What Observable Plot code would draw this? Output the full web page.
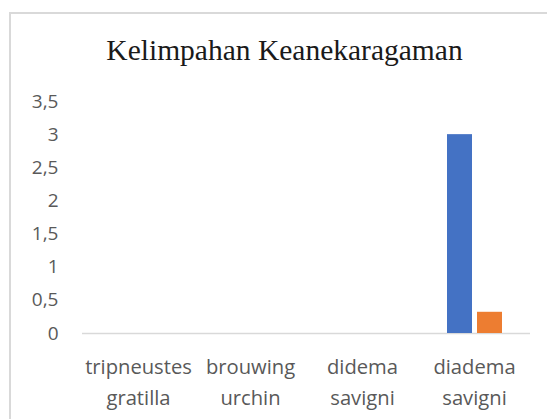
<!DOCTYPE html>
<html>
<head>
<meta charset="utf-8">
<script src="https://cdn.jsdelivr.net/npm/d3@7"></script>
<script src="https://cdn.jsdelivr.net/npm/@observablehq/plot@0.6"></script>
<style>
  body { margin: 0; background: #fff; }
  #wrap { position: relative; width: 547px; height: 419px; overflow: hidden; background: #fff; }
  #border { position: absolute; left: 9px; top: 12px; width: 620px; height: 520px; border: 2px solid #d9d9d9; box-sizing: border-box; }
  #title { position: absolute; left: 0; top: 35px; width: 569px; text-align: center; font-family: "Liberation Serif", "Times New Roman", serif; font-size: 29.5px; line-height: 30px; color: #1a1a1a; white-space: nowrap; }
  #chart { position: absolute; left: 0; top: 0; }
</style>
</head>
<body>
<div id="wrap">
  <div id="border"></div>
  <div id="title">Kelimpahan Keanekaragaman</div>
  <div id="chart"></div>
</div>
<script>
const categories = ["tripneustes gratilla", "brouwing urchin", "didema savigni", "diadema savigni"];
const seriesNames = ["Kelimpahan", "Keanekaragaman"];
const kelimpahan = [0, 0, 0, 3.0];
const keanekaragaman = [0, 0, 0, 0.32];
const seriesColors = ["#4472C4", "#ED7D31"];
const yTicks = [0, 0.5, 1, 1.5, 2, 2.5, 3, 3.5];

const data = [];
categories.forEach((c, i) => {
  data.push({category: c, series: seriesNames[0], value: kelimpahan[i]});
  data.push({category: c, series: seriesNames[1], value: keanekaragaman[i]});
});

const chart = Plot.plot({
  width: 547,
  height: 419,
  marginLeft: 81,
  marginRight: 17,
  marginTop: 101,
  marginBottom: 86,
  style: {fontFamily: "'Open Sans', sans-serif", fontSize: "19px", background: "transparent"},
  fx: {domain: categories, padding: 0, axis: null},
  x: {domain: seriesNames, paddingInner: 0.177, paddingOuter: 0.899, axis: null},
  y: {domain: [0, 3.5], axis: null},
  color: {domain: seriesNames, range: seriesColors},
  marks: [
    Plot.ruleY([0], {stroke: "#d9d9d9", strokeWidth: 1.5}),
    Plot.barY(data, {fx: "category", x: "series", y: "value", fill: "series"}),
    Plot.axisY({
      ticks: yTicks,
      tickSize: 0,
      tickPadding: 24,
      tickFormat: d => String(d).replace(".", ","),
      color: "#595959",
      fontSize: 19,
      label: null
    }),
    Plot.axisFx({
      anchor: "bottom",
      tickSize: 0,
      tickPadding: 18,
      lineHeight: 1.55,
      tickFormat: d => d.replace(" ", "\n"),
      color: "#595959",
      fontSize: 20.2,
      label: null
    })
  ]
});
document.getElementById("chart").appendChild(chart);
</script>
</body>
</html>
